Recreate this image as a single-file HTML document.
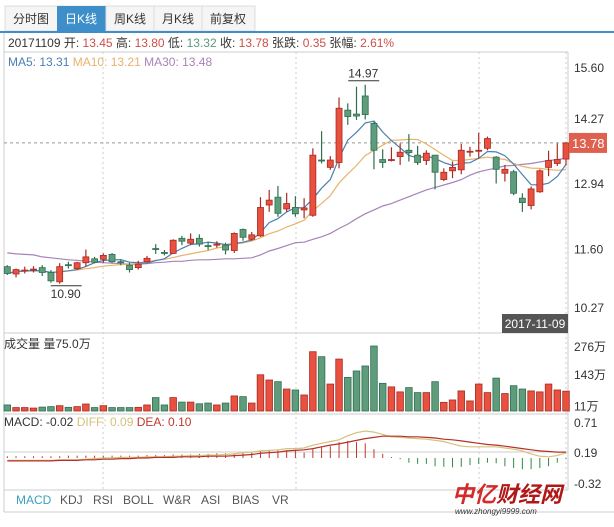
<!DOCTYPE html>
<html><head><meta charset="utf-8">
<style>
body{margin:0;background:#fff;width:614px;height:522px;overflow:hidden;font-family:"Liberation Sans","Noto Sans CJK SC",sans-serif;}
svg text{font-family:"Liberation Sans","Noto Sans CJK SC",sans-serif;}
</style></head>
<body>
<svg id="c" width="614" height="522" viewBox="0 0 614 522" xmlns="http://www.w3.org/2000/svg">
 <g>
  <rect x="5" y="6" width="250" height="25" fill="#f5f5f5" stroke="#ddd"/>
  <rect x="57" y="6" width="49" height="25" fill="#3d8ec9"/>
  <line x1="106" y1="6" x2="106" y2="31" stroke="#ddd"/><line x1="154" y1="6" x2="154" y2="31" stroke="#ddd"/><line x1="202" y1="6" x2="202" y2="31" stroke="#ddd"/>
  <text x="31" y="23" font-size="12" fill="#333" text-anchor="middle">分时图</text>
  <text x="81" y="23" font-size="12" fill="#fff" text-anchor="middle">日K线</text>
  <text x="130" y="23" font-size="12" fill="#333" text-anchor="middle">周K线</text>
  <text x="178" y="23" font-size="12" fill="#333" text-anchor="middle">月K线</text>
  <text x="228" y="23" font-size="12" fill="#333" text-anchor="middle">前复权</text>
 </g>
 <rect x="0" y="31" width="614" height="2" fill="#3d8ec9"/>
 <g stroke="#ccc" fill="none">
  <line x1="4" y1="33" x2="4" y2="512"/>
  <line x1="568" y1="52" x2="568" y2="490"/>
  <line x1="4" y1="52" x2="568" y2="52"/>
  <line x1="4" y1="333" x2="568" y2="333"/>
  <line x1="4" y1="414" x2="568" y2="414"/>
  <line x1="4" y1="490" x2="568" y2="490"/>
  <line x1="4" y1="512" x2="614" y2="512"/>
 </g>
 <text x="8" y="47" font-size="12"><tspan fill="#333">20171109 开: </tspan><tspan fill="#c9504a">13.45</tspan><tspan fill="#333"> 高: </tspan><tspan fill="#c9504a">13.80</tspan><tspan fill="#333"> 低: </tspan><tspan fill="#5a9a78">13.32</tspan><tspan fill="#333"> 收: </tspan><tspan fill="#c9504a">13.78</tspan><tspan fill="#333"> 张跌: </tspan><tspan fill="#c9504a">0.35</tspan><tspan fill="#333"> 张幅: </tspan><tspan fill="#c9504a">2.61%</tspan></text>
 <text x="8" y="66" font-size="12"><tspan fill="#4a7fb0">MA5: 13.31 </tspan><tspan fill="#e8b36b">MA10: 13.21 </tspan><tspan fill="#a783b7">MA30: 13.48</tspan></text>
 <g id="grid"></g>
 <g id="price"></g>
 <g id="vol"></g>
 <g id="macd"></g>
 <text x="4" y="348" font-size="12" fill="#333">成交量 量75.0万</text>
 <text x="4" y="426" font-size="12"><tspan fill="#333">MACD: -0.02 </tspan><tspan fill="#d4c27a">DIFF: 0.09 </tspan><tspan fill="#c0392b">DEA: 0.10</tspan></text>
 <rect x="502" y="314" width="66" height="19" fill="#555"/>
 <text x="535" y="328" font-size="12" fill="#fff" text-anchor="middle">2017-11-09</text>
 <g font-size="12" fill="#555">
  <text x="16" y="504" fill="#3aa0c0">MACD</text>
  <text x="60" y="504">KDJ</text>
  <text x="93" y="504">RSI</text>
  <text x="123" y="504">BOLL</text>
  <text x="163" y="504">W&amp;R</text>
  <text x="201" y="504">ASI</text>
  <text x="232" y="504">BIAS</text>
  <text x="272" y="504">VR</text>
 </g>
 <g>
  <text x="452" y="502" font-size="22" font-weight="bold" fill="#d42a2a" font-style="italic">中亿<tspan fill="#b01818">财经网</tspan></text>
  <text x="455" y="514" font-size="8" fill="#333" font-style="italic">www.zhongyi9999.com</text>
 </g>
</svg>
<script>
const opens =[11.25,11.10,11.17,11.20,11.23,11.13,10.94,11.29,11.21,11.33,11.41,11.40,11.50,11.35,11.28,11.23,11.35,11.62,11.54,11.52,11.83,11.73,11.83,11.68,11.70,11.69,11.58,12.01,11.81,11.88,12.51,12.67,12.43,12.46,12.41,12.30,13.43,13.28,13.38,14.45,14.37,14.74,14.18,13.44,13.43,13.50,13.63,13.53,13.42,13.53,13.03,13.21,13.23,13.60,13.62,13.67,13.49,13.16,13.19,12.65,12.50,12.78,13.28,13.36,13.45];
const highs =[11.28,11.21,11.25,11.26,11.28,11.18,11.32,11.35,11.35,11.60,11.45,11.52,11.53,11.40,11.33,11.37,11.47,11.71,11.59,11.81,11.88,11.93,11.91,11.76,11.77,11.74,11.95,12.03,11.96,12.67,12.82,12.90,12.76,12.69,12.65,13.67,14.02,13.51,14.71,14.59,14.93,14.97,14.21,13.65,13.69,13.77,13.96,13.72,13.63,13.53,13.26,13.40,13.76,13.70,13.99,13.91,13.51,13.33,13.23,12.75,12.89,13.24,13.62,13.77,13.80];
const lows  =[11.08,11.03,11.11,11.13,11.06,10.92,10.90,11.21,11.19,11.25,11.32,11.33,11.32,11.28,11.13,11.19,11.33,11.51,11.48,11.51,11.69,11.69,11.66,11.59,11.64,11.50,11.53,11.78,11.78,11.86,12.37,12.27,12.37,12.27,12.24,12.27,13.36,13.23,13.26,14.15,14.25,14.26,13.24,13.27,13.40,13.33,13.40,13.33,13.33,12.83,13.00,13.06,13.14,13.50,13.46,13.63,12.95,12.99,12.71,12.37,12.42,12.76,13.10,13.31,13.32];
const closes=[11.11,11.19,11.18,11.20,11.13,10.96,11.25,11.28,11.33,11.45,11.34,11.48,11.35,11.34,11.19,11.30,11.42,11.61,11.53,11.79,11.77,11.81,11.71,11.67,11.71,11.59,11.93,11.85,11.90,12.46,12.61,12.34,12.54,12.33,12.45,13.53,13.42,13.43,14.49,14.32,14.33,14.36,13.63,13.38,13.44,13.59,13.58,13.38,13.57,13.18,13.18,13.28,13.63,13.61,13.63,13.87,13.24,13.24,12.75,12.56,12.84,13.21,13.42,13.44,13.78];
const ma30  =[11.53,11.51,11.50,11.49,11.45,11.43,11.41,11.39,11.38,11.36,11.34,11.33,11.32,11.31,11.30,11.30,11.31,11.33,11.34,11.36,11.36,11.38,11.39,11.39,11.40,11.41,11.41,11.42,11.43,11.49,11.57,11.62,11.68,11.74,11.75,11.81,11.86,11.93,12.03,12.12,12.23,12.33,12.41,12.49,12.54,12.61,12.68,12.75,12.82,12.87,12.92,12.97,13.03,13.12,13.19,13.23,13.27,13.31,13.32,13.34,13.36,13.39,13.42,13.44,13.47];
const volumes=[17,6,6,4,8,10,14,7,10,21,6,14,6,6,6,7,17,48,17,48,29,29,22,25,17,25,55,52,25,144,122,115,84,80,59,241,220,105,210,133,160,181,265,108,93,72,90,69,69,115,28,38,76,34,105,69,130,65,98,84,76,72,105,80,75];
const diff  =[-0.04,-0.04,-0.04,-0.04,-0.04,-0.04,-0.03,-0.03,-0.03,-0.02,-0.01,0,0,0.01,0.01,0.01,0.02,0.02,0.02,0.03,0.03,0.04,0.04,0.05,0.05,0.06,0.07,0.09,0.10,0.12,0.13,0.14,0.16,0.16,0.17,0.22,0.25,0.28,0.31,0.38,0.43,0.46,0.44,0.40,0.36,0.35,0.34,0.33,0.32,0.30,0.28,0.24,0.20,0.19,0.19,0.19,0.19,0.17,0.15,0.12,0.07,0.03,0.02,0.04,0.09];
const dea   =[-0.05,-0.05,-0.05,-0.05,-0.05,-0.05,-0.04,-0.04,-0.04,-0.03,-0.03,-0.02,-0.02,-0.01,-0.01,0,0,0.01,0.01,0.01,0.02,0.02,0.02,0.03,0.03,0.03,0.04,0.05,0.06,0.08,0.09,0.10,0.12,0.13,0.14,0.16,0.19,0.22,0.24,0.27,0.30,0.33,0.35,0.37,0.37,0.37,0.36,0.36,0.35,0.34,0.32,0.31,0.29,0.27,0.25,0.23,0.22,0.20,0.18,0.16,0.14,0.12,0.11,0.10,0.10];
const macdBars=[0.03,0.03,0.03,0.03,0.03,0.03,0.03,0.04,0.04,0.04,0.04,0.04,0.04,0.04,0.04,0.04,0.05,0.05,0.05,0.06,0.06,0.06,0.07,0.07,0.08,0.08,0.08,0.09,0.10,0.11,0.12,0.13,0.13,0.14,0.09,0.15,0.19,0.20,0.27,0.29,0.27,0.25,0.15,0.07,0,-0.02,-0.08,-0.10,-0.10,-0.14,-0.15,-0.16,-0.15,-0.12,-0.10,-0.08,-0.09,-0.14,-0.17,-0.19,-0.19,-0.17,-0.14,-0.08,-0.02];
const priceTicks=["15.60","14.27","12.94","11.60","10.27"];
const priceTickVals=[15.60,14.27,12.94,11.60,10.27];
const volTicks=["276万","143万","11万"];
const volTickVals=[276,143,11];
const macdTicks=["0.71","0.19","-0.32"];
const macdTickVals=[0.71,0.19,-0.32];

const NS="http://www.w3.org/2000/svg";
function mk(tag,attrs,parent){const e=document.createElementNS(NS,tag);for(const k in attrs)e.setAttribute(k,attrs[k]);parent.appendChild(e);return e;}
const xOf=i=>7.3+i*8.73;
const yP=p=>184+(12.94-p)*48.9;
const yV=v=>409-v*0.2377;
const yM=v=>458-v*58.8;
const RED="#e8503f",RED_S="#a82a22",GRN="#5e9c7c",GRN_S="#2f6f4f";
const grid=document.getElementById('grid'),price=document.getElementById('price'),vol=document.getElementById('vol'),macd=document.getElementById('macd'),svg=document.getElementById('c');

[103,296,479,566].forEach(x=>{const l=mk('line',{x1:x,y1:52,x2:x,y2:490,stroke:'#ccc','stroke-dasharray':'2,3'},grid);

});
const cl=mk('line',{x1:4,y1:yP(closes[64]),x2:568,y2:yP(closes[64]),stroke:'#999','stroke-dasharray':'3,3'},grid);


const zl=mk('line',{x1:4,y1:452,x2:568,y2:452,stroke:'#ccc'},grid);



priceTicks.forEach((t,i)=>{let y=yP(priceTickVals[i]);y=Math.max(68,Math.min(y,308));const e=mk('text',{x:574,y:y+4,'font-size':12,fill:'#333'},svg);e.textContent=t;

});
volTicks.forEach((t,i)=>{let y=yV(volTickVals[i]);y=Math.max(y,347);const e=mk('text',{x:574,y:y+4,'font-size':12,fill:'#333'},svg);e.textContent=t;

});
macdTicks.forEach((t,i)=>{const y=[423,453,484][i];const e=mk('text',{x:574,y:y+4,'font-size':12,fill:'#333'},svg);e.textContent=t;

});

// MA lines
function ma(n){return closes.map((c,i)=>{const s=closes.slice(Math.max(0,i-n+1),i+1);return s.reduce((a,b)=>a+b,0)/s.length;});}
function line(vals,col,fy,parent,name){const d=vals.map((v,i)=>(i?'L':'M')+xOf(i).toFixed(1)+','+fy(v).toFixed(1)).join('');const p=mk('path',{d:d,fill:'none',stroke:col,'stroke-width':1.2},parent);

}
line(ma30,'#a783b7',yP,price,'ma30-line');
line(ma(10),'#e8b36b',yP,price,'ma10-line');
line(ma(5),'#4a7fb0',yP,price,'ma5-line');

closes.forEach((c,i)=>{const o=opens[i],up=c>=o,x=xOf(i);
 const g=mk('g',{},price);
 
 
 const s=up?RED_S:GRN_S,f=up?RED:GRN;
 mk('line',{x1:x,y1:yP(highs[i]),x2:x,y2:yP(lows[i]),stroke:s,'stroke-width':1.2},g);
 const t=yP(Math.max(o,c)),b=yP(Math.min(o,c));
 mk('rect',{x:x-3,y:t,width:6,height:Math.max(1,b-t),fill:f,stroke:s,'stroke-width':0.8},g);
 const vb=mk('rect',{x:x-3.3,y:yV(volumes[i]),width:6.6,height:411-yV(volumes[i]),fill:f,stroke:s,'stroke-width':0.8},vol);
 
 
 const m=macdBars[i];
 const mb=mk('line',{x1:x,y1:yM(0),x2:x,y2:yM(m)+(Math.abs(m)<0.02?(m>=0?-1:1):0),stroke:m>=0?'#c0392b':'#2e8b3e','stroke-width':1},macd);
 
 
});
line(diff,'#d4c27a',yM,macd,'diff-line');
line(dea,'#b5302a',yM,macd,'dea-line');

// annotations
let hi=0,lo=0;highs.forEach((h,i)=>{if(h>highs[hi])hi=i;});lows.forEach((l,i)=>{if(l<lows[lo])lo=i;});
const ah=mk('text',{x:xOf(hi)-17,y:yP(highs[hi])-7,'font-size':12,fill:'#333'},svg);ah.textContent=highs[hi].toFixed(2);


mk('line',{x1:xOf(hi)-17,y1:yP(highs[hi])-4,x2:xOf(hi)+14,y2:yP(highs[hi])-4,stroke:'#333'},svg);
const al=mk('text',{x:xOf(lo)-9,y:yP(lows[lo])+14,'font-size':12,fill:'#333'},svg);al.textContent=lows[lo].toFixed(2);


mk('line',{x1:xOf(lo)-9,y1:yP(lows[lo])+2,x2:xOf(lo)+22,y2:yP(lows[lo])+2,stroke:'#333'},svg);

// last price tag
const ly=yP(closes[64]);
const lr=mk('rect',{x:569,y:ly-10,width:38,height:20,fill:'#e0604f'},svg);


const lt=mk('text',{x:572,y:ly+5,'font-size':13,fill:'#fff'},svg);lt.textContent=closes[64].toFixed(2);


</script>
</body></html>
